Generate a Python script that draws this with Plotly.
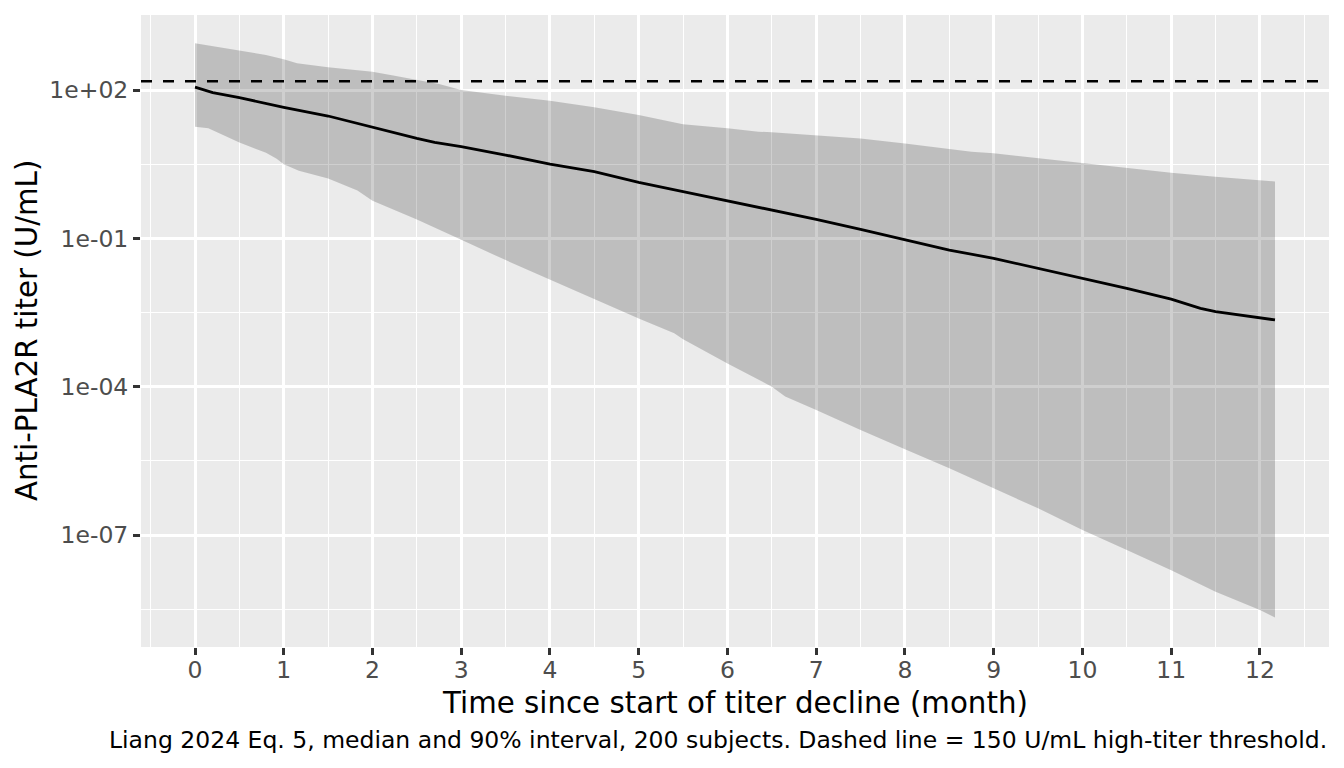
import plotly.graph_objects as go

# ---- data (time in months, titer in U/mL) ----
t_upper = [0, 0.35, 0.5, 0.8, 1.0, 1.15, 1.5, 2.0, 2.25, 2.5, 2.75, 3.0, 3.5, 4.0, 4.5,
           5.0, 5.3, 5.5, 6.0, 6.35, 6.5, 7.0, 7.5, 8.0, 8.5, 8.75, 9.0, 9.5, 10.0,
           10.5, 11.0, 11.5, 12.0, 12.17]
upper = [879, 697, 624, 511, 417, 347, 288, 234, 195, 158, 132, 100, 76.7, 61.0, 44.7,
         31.2, 24.0, 20.4, 16.9, 14.4, 14.0, 12.3, 10.5, 8.32, 6.31, 5.65, 5.25, 4.17,
         3.30, 2.61, 2.13, 1.77, 1.51, 1.42]

t_lower = [0, 0.15, 0.5, 0.8, 0.92, 1.0, 1.17, 1.5, 1.83, 2.0, 2.5, 3.0, 3.5, 4.0, 4.5,
           5.0, 5.4, 5.5, 6.0, 6.5, 6.65, 7.0, 7.5, 8.0, 8.5, 9.0, 9.5, 10.0, 10.5,
           11.0, 11.5, 12.0, 12.17]
lower = [18.1, 16.8, 8.71, 5.37, 4.07, 3.16, 2.32, 1.62, 0.933, 0.575, 0.240, 0.0933,
         0.0363, 0.0145, 5.89e-3, 2.40e-3, 1.20e-3, 9.12e-4, 2.95e-4, 1.0e-4, 6.31e-5,
         3.39e-5, 1.33e-5, 5.42e-6, 2.24e-6, 8.81e-7, 3.47e-7, 1.26e-7, 5.01e-8,
         1.95e-8, 7.14e-9, 3.05e-9, 2.14e-9]

t_median = [0, 0.2, 0.5, 0.75, 1.0, 1.5, 1.75, 2.0, 2.25, 2.5, 2.7, 3.0, 3.5, 4.0, 4.5,
            5.0, 5.5, 6.0, 6.25, 6.5, 7.0, 7.5, 8.0, 8.5, 9.0, 9.5, 10.0, 10.5, 11.0,
            11.33, 11.5, 12.0, 12.17]
median = [114, 88.3, 70.0, 55.3, 44.7, 29.8, 22.9, 17.4, 13.7, 10.5, 8.75, 7.13, 4.84,
          3.16, 2.23, 1.36, 0.879, 0.575, 0.473, 0.374, 0.243, 0.152, 0.0927, 0.0581,
          0.0394, 0.0248, 0.0155, 9.77e-3, 5.89e-3, 3.85e-3, 3.31e-3, 2.51e-3, 2.24e-3]

threshold = 150
x_ticks = list(range(0, 13))
y_ticks = [1e2, 1e-1, 1e-4, 1e-7]
y_tick_labels = ["1e+02", "1e-01", "1e-04", "1e-07"]
y_minor = [10 ** 3.5, 10 ** 0.5, 10 ** -2.5, 10 ** -5.5, 10 ** -8.5]
x_minor = [k + 0.5 for k in range(-1, 13)]

X_RANGE = [-0.6085, 12.7785]
Y_RANGE = [-9.264, 3.517]

FONT = "DejaVu Sans"

fig = go.Figure()

# 90% interval ribbon
fig.add_trace(go.Scatter(
    x=t_upper + t_lower[::-1],
    y=upper + lower[::-1],
    fill="toself", fillcolor="rgba(0,0,0,0.19)",
    line=dict(width=0), mode="lines", hoverinfo="skip", showlegend=False))

# median
fig.add_trace(go.Scatter(
    x=t_median, y=median, mode="lines",
    line=dict(color="black", width=2.8), showlegend=False))

# threshold line
fig.add_trace(go.Scatter(
    x=X_RANGE, y=[threshold, threshold], mode="lines",
    line=dict(color="black", width=2.6, dash="11px,11px"), showlegend=False))

# page has an 8px body margin, so margins are shifted to place the panel
fig.update_layout(
    width=1344, height=768, autosize=False,
    margin=dict(l=133, r=23, t=7, b=129),
    paper_bgcolor="white", plot_bgcolor="#EBEBEB",
    font=dict(family=FONT, color="#4D4D4D", size=23.5),
    showlegend=False,
)

fig.update_xaxes(
    range=X_RANGE, tickmode="array", tickvals=x_ticks,
    ticks="outside", ticklen=7, tickwidth=2.5, tickcolor="#333333",
    ticklabelstandoff=-5,
    tickfont=dict(family=FONT, size=23.5, color="#4D4D4D"),
    showgrid=True, gridcolor="white", gridwidth=2.7, zeroline=False, showline=False,
    minor=dict(tickvals=x_minor, showgrid=True, gridcolor="white", gridwidth=1.4, ticks=""),
)
fig.update_yaxes(
    type="log", range=Y_RANGE, tickmode="array", tickvals=y_ticks, ticktext=y_tick_labels,
    ticks="outside", ticklen=7, tickwidth=2.5, tickcolor="#333333",
    tickfont=dict(family=FONT, size=23.5, color="#4D4D4D"),
    showgrid=True, gridcolor="white", gridwidth=2.7, zeroline=False, showline=False,
    minor=dict(tickvals=y_minor, showgrid=True, gridcolor="white", gridwidth=1.4, ticks=""),
)

panel_top, panel_bottom = 15, 647
panel_left, panel_right = 141, 1329
panel_h = panel_bottom - panel_top
panel_w = panel_right - panel_left

fig.add_annotation(
    text="Time since start of titer decline (month)", xref="paper", yref="paper",
    x=0.5, y=-(703 - panel_bottom) / panel_h, xanchor="center", yanchor="middle",
    showarrow=False, font=dict(family=FONT, size=29.3, color="black"))

fig.add_annotation(
    text="Anti-PLA2R titer (U/mL)", xref="paper", yref="paper",
    x=-(panel_left - 27) / panel_w, y=0.5, xanchor="center", yanchor="middle",
    textangle=-90, showarrow=False, font=dict(family=FONT, size=29.3, color="black"))

fig.add_annotation(
    text="Liang 2024 Eq. 5, median and 90% interval, 200 subjects. Dashed line = 150 U/mL high-titer threshold.",
    xref="paper", yref="paper", x=1.0, y=-(740 - panel_bottom) / panel_h,
    xanchor="right", yanchor="middle", showarrow=False,
    font=dict(family=FONT, size=23.5, color="black"))

fig.write_html("out.html")
